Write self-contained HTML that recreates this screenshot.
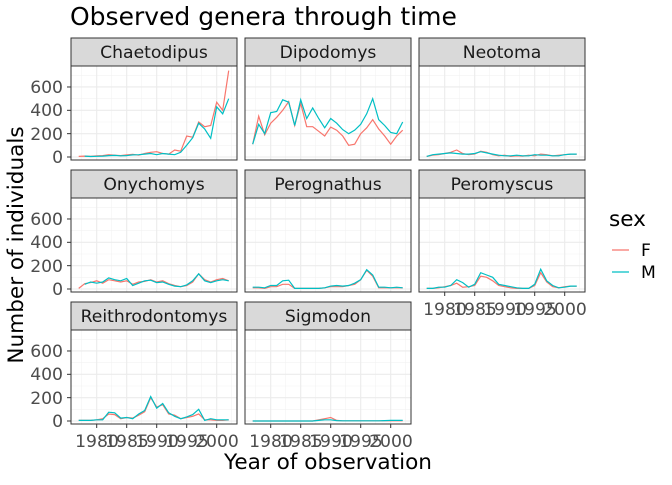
<!DOCTYPE html>
<html><head><meta charset="utf-8"><style>
body{margin:0;background:#fff}
svg text{font-family:"DejaVu Sans","Liberation Sans",sans-serif}
</style></head><body>
<svg id="s" width="672" height="480" xmlns="http://www.w3.org/2000/svg">
<rect width="672" height="480" fill="#fff"/>
<g id="grid"></g>
<g id="lines"></g>
<g id="frames"></g>
<text x="70" y="25" font-size="25" fill="#000">Observed genera through time</text>
<g font-size="17.2" fill="#1a1a1a" text-anchor="middle">
<text x="154" y="58">Chaetodipus</text>
<text x="328" y="58">Dipodomys</text>
<text x="502" y="58">Neotoma</text>
<text x="154" y="190">Onychomys</text>
<text x="328" y="190">Perognathus</text>
<text x="502" y="190">Peromyscus</text>
<text x="154" y="322">Reithrodontomys</text>
<text x="328" y="322">Sigmodon</text>
</g>
<g font-size="17.2" fill="#4d4d4d" text-anchor="end">
<text x="63" y="163">0</text><text x="63" y="140">200</text><text x="63" y="116">400</text><text x="63" y="93">600</text>
<text x="63" y="295">0</text><text x="63" y="272">200</text><text x="63" y="248">400</text><text x="63" y="225">600</text>
<text x="63" y="427">0</text><text x="63" y="404">200</text><text x="63" y="380">400</text><text x="63" y="357">600</text>
</g>
<g font-size="17.2" fill="#4d4d4d" text-anchor="middle">
<text x="97" y="447">1980</text><text x="127" y="447">1985</text><text x="157" y="447">1990</text><text x="187" y="447">1995</text><text x="217" y="447">2000</text>
<text x="271" y="447">1980</text><text x="301" y="447">1985</text><text x="331" y="447">1990</text><text x="361" y="447">1995</text><text x="391" y="447">2000</text>
<text x="445" y="315">1980</text><text x="475" y="315">1985</text><text x="505" y="315">1990</text><text x="535" y="315">1995</text><text x="565" y="315">2000</text>
</g>
<text x="328" y="469" font-size="21.6" text-anchor="middle" fill="#000">Year of observation</text>
<text transform="translate(23,245) rotate(-90)" font-size="21.6" text-anchor="middle" fill="#000">Number of individuals</text>
<text x="609" y="226" font-size="21.6" fill="#000">sex</text>
<line x1="612" y1="250" x2="629" y2="250" stroke="#F8766D" stroke-width="1.2"/>
<line x1="612" y1="272" x2="629" y2="272" stroke="#00BFC4" stroke-width="1.2"/>
<text x="641" y="256" font-size="17.2" fill="#000">F</text>
<text x="641" y="278" font-size="17.2" fill="#000">M</text>
</svg>
<script>
var NS="http://www.w3.org/2000/svg";
function el(p,t,a){var e=document.createElementNS(NS,t);for(var k in a)e.setAttribute(k,a[k]);document.getElementById(p).appendChild(e);return e;}
var cols=[71,245,419],rows=[66,198,330];
var panels=[[0,0],[1,0],[2,0],[0,1],[1,1],[2,1],[0,2],[1,2]];
function X(c,yr){return 78.7+(yr-1977)*6+(cols[c]-71);}
function Y(r,v){return 157+r*132-v*0.1167;}
var D={
0:{F:[5,8,6,10,12,20,15,12,18,22,15,30,40,45,30,25,60,50,180,170,300,260,270,470,400,740],
   M:[,8,4,6,8,12,14,10,12,18,20,25,30,20,30,25,20,40,100,165,290,240,160,430,370,500]},
1:{F:[110,350,190,290,340,400,475,270,460,260,260,220,180,256,230,180,100,110,200,250,320,240,180,110,180,230],
   M:[110,280,200,380,390,490,470,270,490,330,420,330,250,330,290,235,200,230,280,370,500,320,270,210,200,300]},
2:{F:[5,15,20,30,40,60,30,20,25,50,40,20,10,15,5,10,8,15,10,25,20,10,15,20,25,25],
   M:[5,20,25,30,35,30,25,25,30,45,35,25,15,10,10,15,10,10,20,15,15,10,10,20,25,25]},
3:{F:[5,45,55,70,50,80,70,60,70,40,60,65,80,60,70,45,30,20,30,60,130,80,60,80,90,70],
   M:[ ,40,60,50,60,95,80,70,90,30,50,70,75,55,60,40,25,20,35,70,130,70,55,70,80,70]},
4:{F:[10,10,5,20,20,40,40,5,5,5,5,5,10,20,20,20,30,40,80,160,110,10,10,10,10,10],
   M:[15,15,10,30,30,70,75,5,5,5,5,5,10,25,30,25,30,50,80,165,120,15,15,10,15,10]},
5:{F:[5,5,10,20,30,50,15,20,30,110,100,70,30,20,10,5,5,5,30,140,60,20,10,20,25,25],
   M:[5,5,15,15,30,80,55,15,40,140,120,100,40,30,20,10,5,5,40,170,70,30,10,15,25,25]},
6:{F:[5,5,5,10,20,60,55,20,30,25,50,80,200,120,140,60,50,20,30,40,60,10,10,5,5,10],
   M:[5,5,5,10,10,75,70,25,30,20,60,90,210,110,150,70,40,20,35,55,100,5,20,10,10,10]},
7:{F:[0,0,0,0,0,0,0,0,0,0,0,10,20,30,5,2,2,2,2,2,2,2,2,2,2,2],
   M:[0,0,0,0,0,0,0,0,0,0,0,5,10,10,3,2,2,2,2,2,2,2,3,5,5,5]}
};
panels.forEach(function(p,i){
  var c=p[0],r=p[1],x0=cols[c],x1=x0+166,y0=rows[r],y1=y0+94;
  el("grid","rect",{x:x0,y:y0,width:166,height:94,fill:"#fff"});
  [100,300,500,700].forEach(function(v){var y=Y(r,v);el("grid","line",{x1:x0,x2:x1,y1:y,y2:y,stroke:"#f2f2f2","stroke-width":0.6});});
  [1977.5,1982.5,1987.5,1992.5,1997.5,2002.5].forEach(function(v){var x=X(c,v);el("grid","line",{x1:x,x2:x,y1:y0,y2:y1,stroke:"#f2f2f2","stroke-width":0.6});});
  [0,200,400,600].forEach(function(v){var y=Y(r,v);el("grid","line",{x1:x0,x2:x1,y1:y,y2:y,stroke:"#ebebeb","stroke-width":1.1});});
  [1980,1985,1990,1995,2000].forEach(function(v){var x=X(c,v);el("grid","line",{x1:x,x2:x,y1:y0,y2:y1,stroke:"#ebebeb","stroke-width":1.1});});
  ["F","M"].forEach(function(s){
    var pts=[];D[i][s].forEach(function(v,k){if(v!==undefined)pts.push(X(c,1977+k).toFixed(1)+","+Y(r,v).toFixed(1));});
    el("lines","polyline",{points:pts.join(" "),fill:"none",stroke:s=="F"?"#F8766D":"#00BFC4","stroke-width":1.2});
  });
  el("frames","rect",{x:x0,y:y0-28,width:166,height:28,fill:"#d9d9d9",stroke:"#333","stroke-width":1});
  el("frames","rect",{x:x0,y:y0,width:166,height:94,fill:"none",stroke:"#333","stroke-width":1});
  if(c==0)[0,200,400,600].forEach(function(v){var y=Y(r,v);el("frames","line",{x1:67,x2:71,y1:y,y2:y,stroke:"#333"});});
  if(r==2||(r==1&&c==2))[1980,1985,1990,1995,2000].forEach(function(v){var x=X(c,v);el("frames","line",{x1:x,x2:x,y1:y1,y2:y1+4,stroke:"#333"});});
});
</script>
</body></html>
